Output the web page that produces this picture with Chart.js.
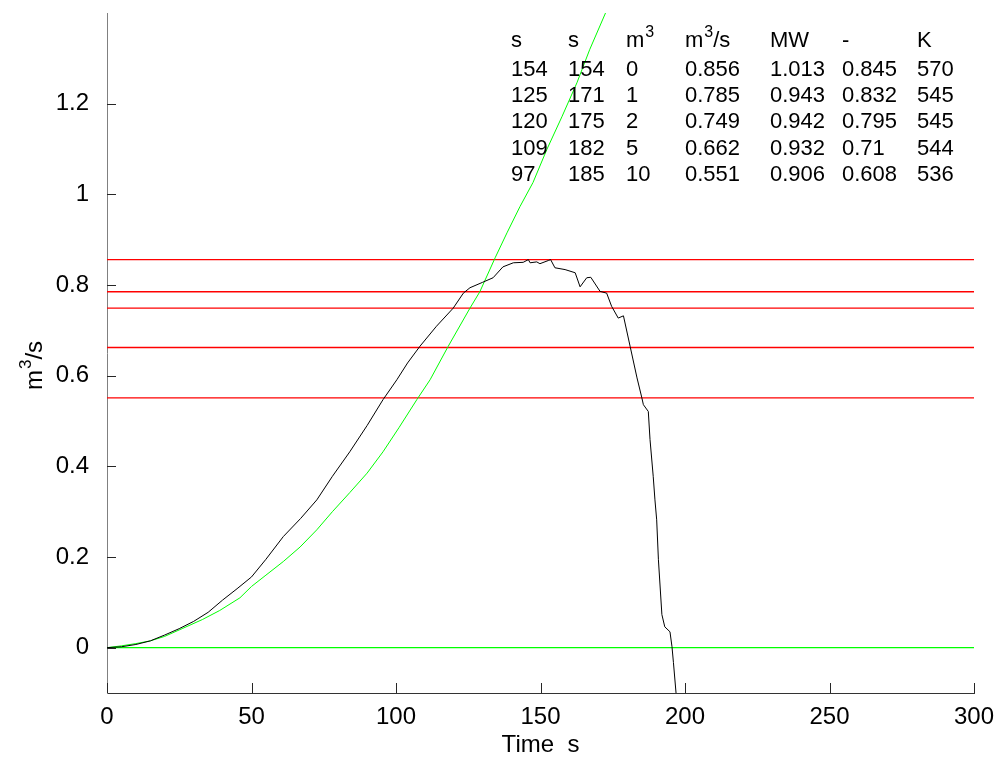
<!DOCTYPE html>
<html>
<head>
<meta charset="utf-8">
<script src="https://cdn.jsdelivr.net/npm/chart.js@4/dist/chart.umd.min.js"></script>
<style>
    html, body { margin: 0; padding: 0; background: #fff; }
    #wrap { width: 1000px; height: 760px; }
</style>
</head>
<body>
<div id="wrap"><canvas id="chart" width="1000" height="760"></canvas></div>
<script>
// Measured flow rate (black)
const measTime = [0, 5, 10, 15, 20, 25, 30, 35, 40, 45, 50, 55, 61, 67, 72.6, 78, 84, 90, 95.5, 100.3,
    104, 108.3, 114, 119.8, 123.3, 125.6, 130, 133.6, 137, 140.6, 144, 145.8, 146.4, 148.7, 149.8, 152.7,
    153.5, 155, 158.5, 162, 163.7, 166, 167.4, 170.6, 172.9, 174.6, 176.9, 178.7, 181, 183.4, 185, 185.6,
    187.3, 187.9, 189, 189.6, 190.2, 190.8, 192, 193, 194.8, 195.5, 196, 196.9];
const measRate = [0, 0.002, 0.007, 0.015, 0.028, 0.042, 0.058, 0.078, 0.105, 0.13, 0.156, 0.195, 0.245,
    0.285, 0.326, 0.378, 0.432, 0.49, 0.547, 0.591, 0.628, 0.665, 0.709, 0.749, 0.782, 0.794, 0.806, 0.816,
    0.84, 0.849, 0.85, 0.856, 0.849, 0.851, 0.847, 0.854, 0.856, 0.838, 0.834, 0.827, 0.796, 0.816, 0.817,
    0.786, 0.782, 0.753, 0.727, 0.732, 0.665, 0.595, 0.553, 0.536, 0.521, 0.459, 0.378, 0.326, 0.282,
    0.194, 0.073, 0.046, 0.035, 0.002, -0.033, -0.1];

// Model flow rate (green)
const modelTime = [0, 5, 10, 15, 20, 26, 33, 39, 46, 50, 55, 61, 66.8, 72.6, 78, 84, 90, 95.5, 101,
    107.2, 111.8, 118, 125.6, 129, 134.3, 138.4, 142.9, 147.4, 152.2, 157.4, 162.6, 167, 172.7];
const modelRate = [0, 0.004, 0.009, 0.015, 0.025, 0.042, 0.062, 0.082, 0.11, 0.135, 0.16, 0.19, 0.222,
    0.26, 0.3, 0.342, 0.385, 0.432, 0.485, 0.547, 0.591, 0.664, 0.749, 0.785, 0.86, 0.915, 0.973, 1.026,
    1.099, 1.171, 1.246, 1.319, 1.403];

// Table columns
const tableHeader = ['s', 's', 'm³', 'm³/s', 'MW', '-', 'K'];
const tStart = [154, 125, 120, 109, 97];
const tEnd = [154, 171, 175, 182, 185];
const volume = [0, 1, 2, 5, 10];
const flowLevel = [0.856, 0.785, 0.749, 0.662, 0.551];
const power = [1.013, 0.943, 0.942, 0.932, 0.906];
const ratio = [0.845, 0.832, 0.795, 0.71, 0.608];
const temp = [570, 545, 545, 544, 536];

const xTicks = [0, 50, 100, 150, 200, 250, 300];
const yTicks = [0, 0.2, 0.4, 0.6, 0.8, 1, 1.2];
const yTitle = 'm³/s';

const FONT = '"Liberation Sans", Arial, sans-serif';
const tableColX = [511, 568, 626, 685, 770, 842, 917];

const toPoints = (xs, ys) => xs.map((x, i) => ({ x: x, y: ys[i] }));

const lineStyle = (color, width) => ({
    borderColor: color,
    borderWidth: width || 1,
    pointRadius: 0,
    tension: 0,
    fill: false
});

const datasets = [
    { label: 'measured', data: toPoints(measTime, measRate), ...lineStyle('#000000') },
    { label: 'model', data: toPoints(modelTime, modelRate), ...lineStyle('#00ff00') }
];
flowLevel.forEach((v, i) => {
    datasets.push({ label: 'level ' + i, data: toPoints([0, 300], [v, v]), ...lineStyle('#ff0000', 1.4) });
});
datasets.push({ label: 'zero', data: toPoints([0, 300], [0, 0]), ...lineStyle('#00ff00', 1.2) });

// text with a raised '3' instead of the small unicode superscript
function drawSup(ctx, text, x, y, size) {
    const parts = text.split('³');
    ctx.font = size + 'px ' + FONT;
    ctx.fillText(parts[0], x, y);
    if (parts.length < 2) return;
    x += ctx.measureText(parts[0]).width + 1;
    ctx.font = Math.round(size * 0.72) + 'px ' + FONT;
    ctx.fillText('3', x, y - size * 0.45);
    x += ctx.measureText('3').width;
    ctx.font = size + 'px ' + FONT;
    ctx.fillText(parts[1], x, y);
}

// inward tick marks, y title and value table
const decorPlugin = {
    id: 'decor',
    afterDraw(chart) {
        const { ctx, chartArea, scales: { x, y } } = chart;
        ctx.save();
        ctx.strokeStyle = '#262626';
        ctx.lineWidth = 1;
        ctx.beginPath();
        xTicks.forEach(v => {
            const px = Math.round(x.getPixelForValue(v)) + 0.5;
            ctx.moveTo(px, chartArea.bottom);
            ctx.lineTo(px, chartArea.bottom - 10);
        });
        yTicks.forEach(v => {
            const py = Math.round(y.getPixelForValue(v)) + 0.5;
            ctx.moveTo(chartArea.left, py);
            ctx.lineTo(chartArea.left + 9, py);
        });
        ctx.stroke();

        ctx.fillStyle = '#000';
        ctx.textAlign = 'left';
        ctx.textBaseline = 'alphabetic';

        // rotated y-axis title
        ctx.save();
        ctx.translate(42, 390);
        ctx.rotate(-Math.PI / 2);
        drawSup(ctx, yTitle, 0, 0, 24);
        ctx.restore();

        tableHeader.forEach((h, i) => drawSup(ctx, h, tableColX[i], 47, 22));
        ctx.font = '22px ' + FONT;
        const cols = [tStart, tEnd, volume, flowLevel, power, ratio, temp];
        for (let r = 0; r < tStart.length; r++) {
            const yy = 76 + r * 26.2;
            cols.forEach((c, i) => ctx.fillText(String(c[r]), tableColX[i], yy));
        }
        ctx.restore();
    }
};

new Chart(document.getElementById('chart'), {
    type: 'line',
    data: { datasets: datasets },
    options: {
        responsive: false,
        animation: false,
        layout: { padding: { top: 13, right: 26, bottom: 0, left: 0 } },
        plugins: {
            legend: { display: false },
            tooltip: { enabled: false }
        },
        scales: {
            x: {
                type: 'linear',
                min: 0,
                max: 300,
                afterBuildTicks: s => { s.ticks = xTicks.map(v => ({ value: v })); },
                afterFit: s => {
                    s.height = 67;
                    s.paddingLeft = 0;
                    s.paddingRight = 0;
                },
                grid: { display: false },
                border: { color: '#333333', width: 1 },
                ticks: {
                    color: '#000',
                    font: { family: FONT, size: 24 },
                    padding: 2,
                    maxRotation: 0,
                    autoSkip: false,
                    callback: v => String(v)
                },
                title: {
                    display: true,
                    text: 'Time  s',
                    color: '#000',
                    font: { family: FONT, size: 24 },
                    padding: { top: 0, bottom: 0 }
                }
            },
            y: {
                type: 'linear',
                min: -0.1,
                max: 1.4,
                afterBuildTicks: s => { s.ticks = yTicks.map(v => ({ value: v })); },
                afterFit: s => {
                    s.width = 107;
                    s.paddingTop = 0;
                    s.paddingBottom = 0;
                },
                grid: { display: false },
                border: { color: '#808080', width: 1 },
                ticks: {
                    color: '#000',
                    font: { family: FONT, size: 24 },
                    padding: 10,
                    autoSkip: false,
                    callback: v => String(v)
                }
            }
        }
    },
    plugins: [decorPlugin]
});
</script>
</body>
</html>
